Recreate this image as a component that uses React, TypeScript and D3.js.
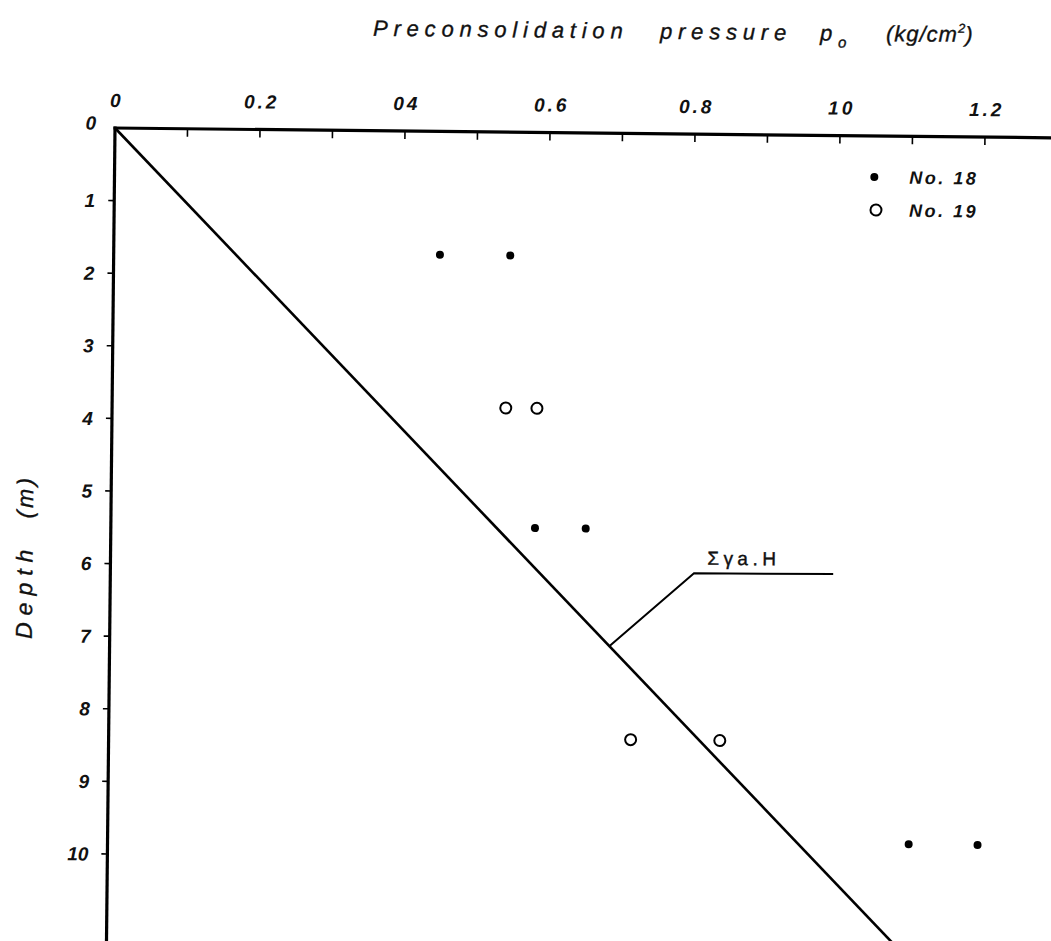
import React from "react";
import * as d3 from "d3";

// ---- data ----
const no18Pressure = [0.45, 0.547, 0.585, 0.655, 1.105, 1.2];
const no18Depth = [1.7, 1.7, 5.45, 5.45, 9.75, 9.75];
const no19Pressure = [0.543, 0.586, 0.72, 0.843];
const no19Depth = [3.8, 3.8, 8.35, 8.35];
const overburdenPressure = [0, 1.083];
const overburdenDepth = [0, 11.1];
const leaderPressure = [0.69, 0.805, 0.997];
const leaderDepth = [7.06, 6.05, 6.04];
const xMinorTicks = [0.1, 0.2, 0.3, 0.4, 0.5, 0.6, 0.7, 0.8, 0.9, 1.0, 1.1, 1.2];
const xLabelValues = [0, 0.2, 0.4, 0.6, 0.8, 1.0, 1.2];
const xTickLabels = ["0", "0.2", "04", "0.6", "0.8", "10", "1.2"];
const yTickValues = [0, 1, 2, 3, 4, 5, 6, 7, 8, 9, 10];
const yTickLabels = ["0", "1", "2", "3", "4", "5", "6", "7", "8", "9", "10"];
const legendLabels = ["No. 18", "No. 19"];

const W = 1051;
const H = 941;
const ORIGIN_X = 115;
const ORIGIN_Y = 128;
const TILT = 0.6;

const x = d3.scaleLinear().domain([0, 1]).range([0, 725]);
const y = d3.scaleLinear().domain([0, 10]).range([0, 726]);

const font = "'Liberation Sans', Arial, sans-serif";

export default function App() {
  const line = d3
    .line<number>()
    .x((_, i) => x(overburdenPressure[i]))
    .y((_, i) => y(overburdenDepth[i]));
  const leader = d3
    .line<number>()
    .x((_, i) => x(leaderPressure[i]))
    .y((_, i) => y(leaderDepth[i]));

  return (
    <svg
      width={W}
      height={H}
      style={{ position: "absolute", left: 0, top: 0, background: "#fff" }}
    >
      <rect x={0} y={0} width={W} height={H} fill="#fff" />
      <g transform={`translate(${ORIGIN_X},${ORIGIN_Y}) rotate(${TILT})`}>
        {/* title */}
        <text
          y={-95}
          fontFamily={font}
          fontStyle="italic"
          fontSize={22}
          fill="#111"
          stroke="#111"
          strokeWidth={0.35}
          letterSpacing={5.8}
        >
          <tspan x={257}>Preconsolidation</tspan>
          <tspan x={544}>pressure</tspan>
          <tspan x={704}>p</tspan>
          <tspan fontSize={15} dy={7} letterSpacing={0}>o</tspan>
          <tspan x={770} dy={-7} letterSpacing={1}>
            (kg/cm
          </tspan>
          <tspan fontSize={13} dy={-9} letterSpacing={0}>2</tspan>
          <tspan dy={9}>)</tspan>
        </text>

        {/* top axis */}
        <line x1={-1.5} y1={0} x2={x(1.32)} y2={0} stroke="#000" strokeWidth={3.2} />
        {xMinorTicks.map((v) => (
          <line key={v} x1={x(v)} x2={x(v)} y1={0} y2={8} stroke="#000" strokeWidth={1.6} />
        ))}
        {xLabelValues.map((v, i) => (
          <text
            key={v}
            x={x(v) + 1.5}
            y={-21}
            textAnchor="middle"
            fontFamily={font}
            fontStyle="italic"
            fontWeight="bold"
            fontSize={19}
            fill="#111"
            letterSpacing={3}
          >
            {xTickLabels[i]}
          </text>
        ))}

        {/* left axis */}
        <line x1={0} y1={-1.5} x2={0} y2={y(11.4)} stroke="#000" strokeWidth={3.2} />
        {yTickValues.slice(1).map((v) => (
          <line key={v} x1={-6} x2={0} y1={y(v)} y2={y(v)} stroke="#000" strokeWidth={1.6} />
        ))}
        {yTickValues.map((v, i) => (
          <text
            key={v}
            x={-19}
            y={y(v)}
            dy={i === 0 ? "0.1em" : "0.36em"}
            textAnchor="end"
            fontFamily={font}
            fontStyle="italic"
            fontWeight="bold"
            fontSize={19}
            fill="#111"
          >
            {yTickLabels[i]}
          </text>
        ))}
        <text
          transform={`translate(${-78},${y(7.05)}) rotate(-90)`}
          textAnchor="start"
          fontFamily={font}
          fontStyle="italic"
          fontSize={23}
          fill="#111"
          stroke="#111"
          strokeWidth={0.35}
        >
          <tspan letterSpacing={7}>Depth</tspan>
          <tspan dx={24} letterSpacing={3}>(m)</tspan>
        </text>

        {/* overburden line */}
        <path d={line(overburdenPressure) || ""} fill="none" stroke="#000" strokeWidth={2.6} />
        <path d={leader(leaderPressure) || ""} fill="none" stroke="#000" strokeWidth={2} />
        <text
          x={x(0.823)}
          y={y(5.93)}
          fontFamily={font}
          fontSize={19}
          fill="#111"
          stroke="#111"
          strokeWidth={0.4}
          letterSpacing={4.5}
        >
          Σγa.H
        </text>

        {/* No. 18 */}
        {no18Pressure.map((p, i) => (
          <circle key={"a" + i} cx={x(p)} cy={y(no18Depth[i])} r={4} fill="#000" />
        ))}
        {/* No. 19 */}
        {no19Pressure.map((p, i) => (
          <circle
            key={"b" + i}
            cx={x(p)}
            cy={y(no19Depth[i])}
            r={5.5}
            fill="#fff"
            stroke="#000"
            strokeWidth={2}
          />
        ))}

        {/* legend */}
        <g transform={`translate(${x(1.048)},${y(0.565)})`}>
          <circle cx={0} cy={0} r={4} fill="#000" />
          <text
            x={35}
            y={0}
            dy="0.36em"
            fontFamily={font}
            fontStyle="italic"
            fontWeight="bold"
            fontSize={18}
            fill="#111"
            letterSpacing={2.5}
          >
            {legendLabels[0]}
          </text>
          <circle cx={2} cy={33} r={5.5} fill="#fff" stroke="#000" strokeWidth={2} />
          <text
            x={35}
            y={33}
            dy="0.36em"
            fontFamily={font}
            fontStyle="italic"
            fontWeight="bold"
            fontSize={18}
            fill="#111"
            letterSpacing={2.5}
          >
            {legendLabels[1]}
          </text>
        </g>
      </g>
    </svg>
  );
}
